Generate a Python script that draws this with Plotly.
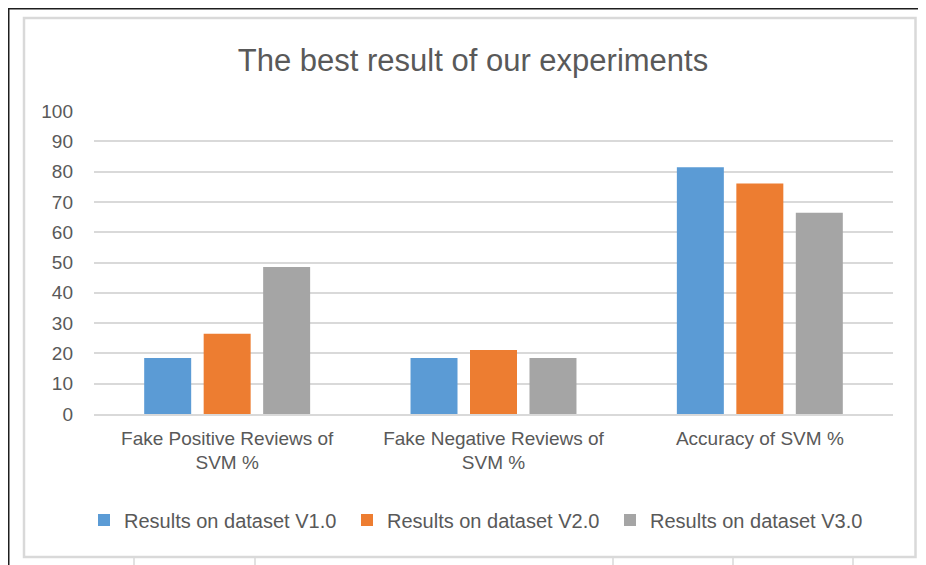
import plotly.graph_objects as go

categories = ['Fake Positive Reviews of<br>SVM %',
              'Fake Negative Reviews of<br>SVM %',
              'Accuracy of SVM %']
series_names = ['Results on dataset V1.0',
                'Results on dataset V2.0',
                'Results on dataset V3.0']
v1_values = [18.5, 18.5, 81.4]
v2_values = [26.5, 21.1, 76.1]
v3_values = [48.5, 18.5, 66.4]
y_ticks = [0, 10, 20, 30, 40, 50, 60, 70, 80, 90, 100]

colors = ['#5B9BD5', '#ED7D31', '#A5A5A5']
text_color = '#595959'
font = 'Liberation Sans'

# the page puts the figure 8px in from the window corner
OFF = 8
W, H = 926 - OFF, 565 - OFF
# plot area in window pixels
PL, PR, PT, PB = 94, 893, 111, 414


def px_x(x):
    return (x - PL) / (PR - PL)


def px_y(y):
    return (PB - y) / (PB - PT)


fig = go.Figure()
for name, vals, col in zip(series_names, [v1_values, v2_values, v3_values], colors):
    fig.add_trace(go.Bar(x=categories, y=vals, name=name,
                         marker=dict(color=col, line=dict(width=0))))

# screenshot frame: outer black border and the light chart border
shapes = [
    dict(type='rect', xref='paper', yref='paper',
         x0=px_x(8.5), x1=px_x(960), y0=px_y(8.5), y1=px_y(600),
         line=dict(color='#1e1e1e', width=2)),
    dict(type='rect', xref='paper', yref='paper',
         x0=px_x(24), x1=px_x(915.5), y0=px_y(18), y1=px_y(557),
         line=dict(color='#d9d9d9', width=2.5)),
]
for cx in [134, 255, 613, 733, 853]:
    shapes.append(dict(type='line', xref='paper', yref='paper',
                       x0=px_x(cx), x1=px_x(cx), y0=px_y(557), y1=px_y(570),
                       line=dict(color='#d9d9d9', width=1.5)))

fig.update_layout(
    width=W, height=H,
    margin=dict(l=PL - OFF, r=W - (PR - OFF), t=PT - OFF, b=H - (PB - OFF)),
    paper_bgcolor='white',
    plot_bgcolor='white',
    font=dict(family=font, color=text_color, size=19),
    title=dict(text='The best result of our experiments',
               font=dict(family=font, size=31, color=text_color),
               x=(473 - OFF) / W, xanchor='center', xref='container',
               y=1 - (60 - OFF) / H, yanchor='middle', yref='container'),
    barmode='group',
    bargap=0.33,
    bargroupgap=0.21,
    showlegend=True,
    legend=dict(orientation='h', xref='container', yref='container',
                x=(98 - OFF - 14) / W, xanchor='left',
                y=(H - (520 - OFF)) / H, yanchor='middle',
                entrywidth=218,
                font=dict(size=20, color=text_color), traceorder='normal'),
    xaxis=dict(showgrid=False, showline=True, linecolor='#d9d9d9', linewidth=1.5,
               ticks='', ticklabelstandoff=6,
               tickfont=dict(size=19, color=text_color)),
    yaxis=dict(range=[0, 100], tickvals=y_ticks, showgrid=True,
               gridcolor='#d9d9d9', gridwidth=1.5, zeroline=False,
               showline=False, ticks='', ticklabelstandoff=20,
               tickfont=dict(size=19, color=text_color)),
    shapes=shapes,
)

fig.write_html('out.html')
